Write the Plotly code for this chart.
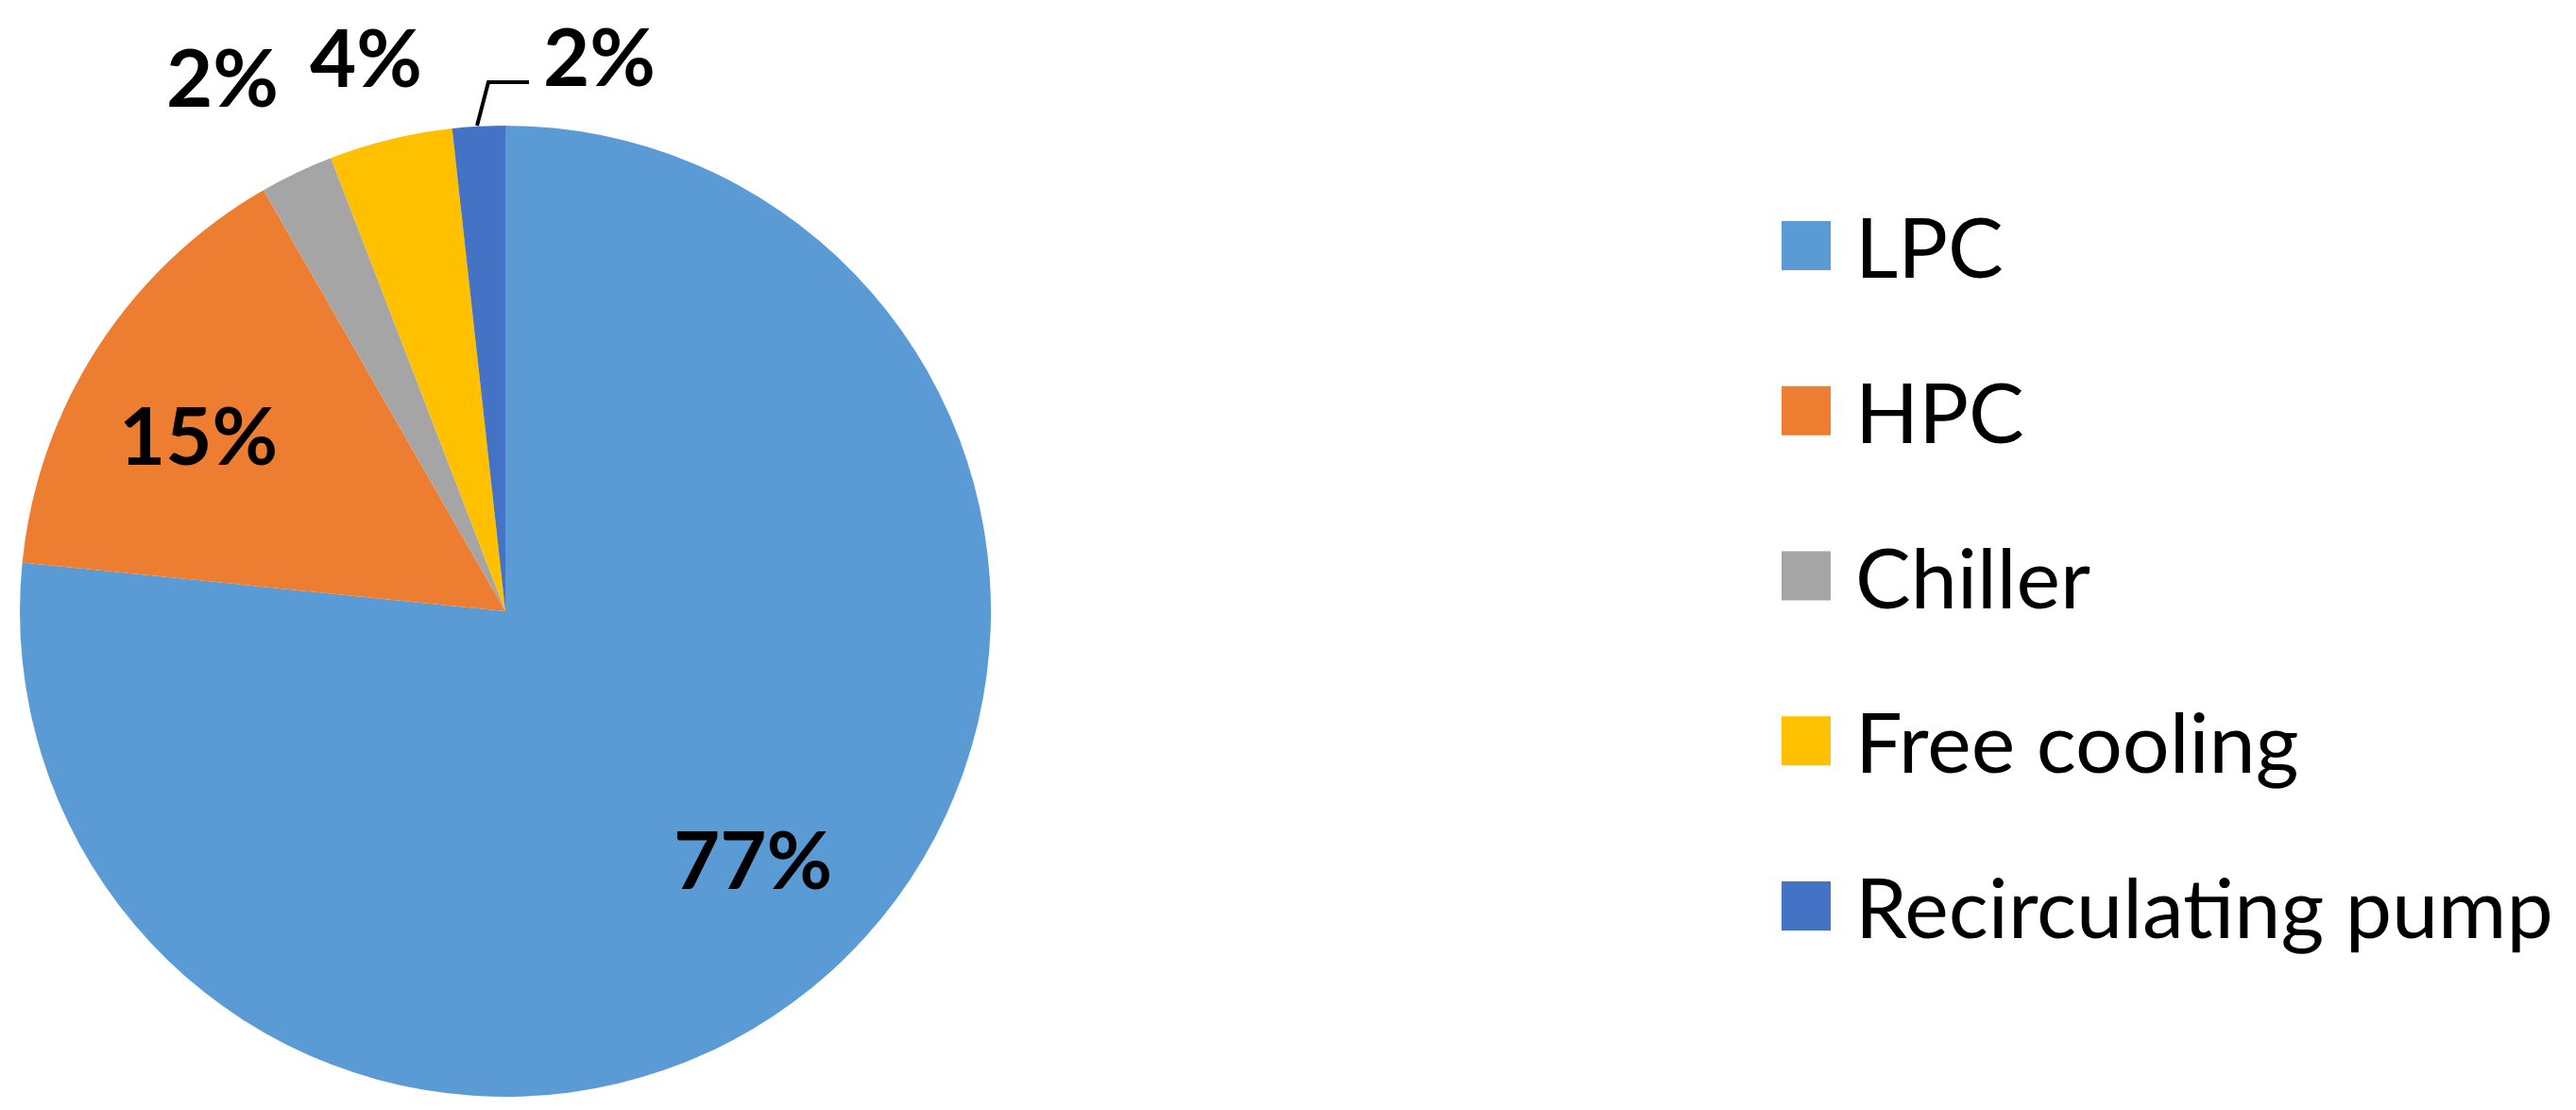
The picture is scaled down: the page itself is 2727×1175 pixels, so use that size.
import plotly.graph_objects as go

# ---- data ----
categories = ["LPC", "HPC", "Chiller", "Free cooling", "Recirculating pump"]
values = [76.6, 15.1, 2.45, 4.1, 1.75]
colors = ["#5B9BD5", "#ED7D31", "#A5A5A5", "#FFC000", "#4472C4"]

W, H = 2727, 1175
OFF = 8  # default page body margin
FW, FH = W - 2 * OFF, H - 2 * OFF

def px(x):
    return (x - OFF) / FW

def py(y):
    return 1 - (y - OFF) / FH

# pie geometry (pixels in the screenshot)
cx, cy, r = 535, 647, 514

fig = go.Figure()
fig.add_trace(go.Pie(
    labels=categories,
    values=values,
    sort=False,
    direction="clockwise",
    rotation=0,
    marker=dict(colors=colors, line=dict(width=0)),
    textinfo="none",
    hoverinfo="label+percent",
    showlegend=False,
    domain=dict(x=[px(cx - r), px(cx + r)], y=[py(cy + r), py(cy - r)]),
))

total = sum(values)
pct = [f"{round(v / total * 100)}%" for v in values]

# label positions (pixels, centre of text)
label_pos = [(797, 908), (210, 459), (236, 80), (387, 59), (634, 58)]
label_font = dict(family="Lato", size=85, color="black")
for t, (x, y) in zip(pct, label_pos):
    fig.add_annotation(x=px(x), y=py(y), xref="paper", yref="paper",
                       text=f"<b>{t}</b>", showarrow=False,
                       xanchor="center", yanchor="middle", font=label_font)

# leader line for the recirculating pump label
fig.add_shape(type="path", xref="paper", yref="paper",
              path=f"M {px(505)} {py(133)} L {px(517)} {py(87)} L {px(560)} {py(87)}",
              line=dict(color="black", width=4))

# custom legend
leg_y0, leg_dy = 260, 174.75
sq = 52
for i, (name, col) in enumerate(zip(categories, colors)):
    yc = leg_y0 + i * leg_dy
    fig.add_shape(type="rect", xref="paper", yref="paper",
                  x0=px(1886), x1=px(1886 + sq), y0=py(yc - sq / 2), y1=py(yc + sq / 2),
                  fillcolor=col, line=dict(width=0))
    fig.add_annotation(x=px(1962), y=py(yc), xref="paper", yref="paper",
                       text=name, showarrow=False, xanchor="left", yanchor="middle",
                       font=dict(family="Lato", size=88, color="black"))

fig.update_layout(
    width=FW, height=FH,
    margin=dict(l=0, r=0, t=0, b=0),
    paper_bgcolor="white",
    plot_bgcolor="white",
)

fig.write_html("out.html")
